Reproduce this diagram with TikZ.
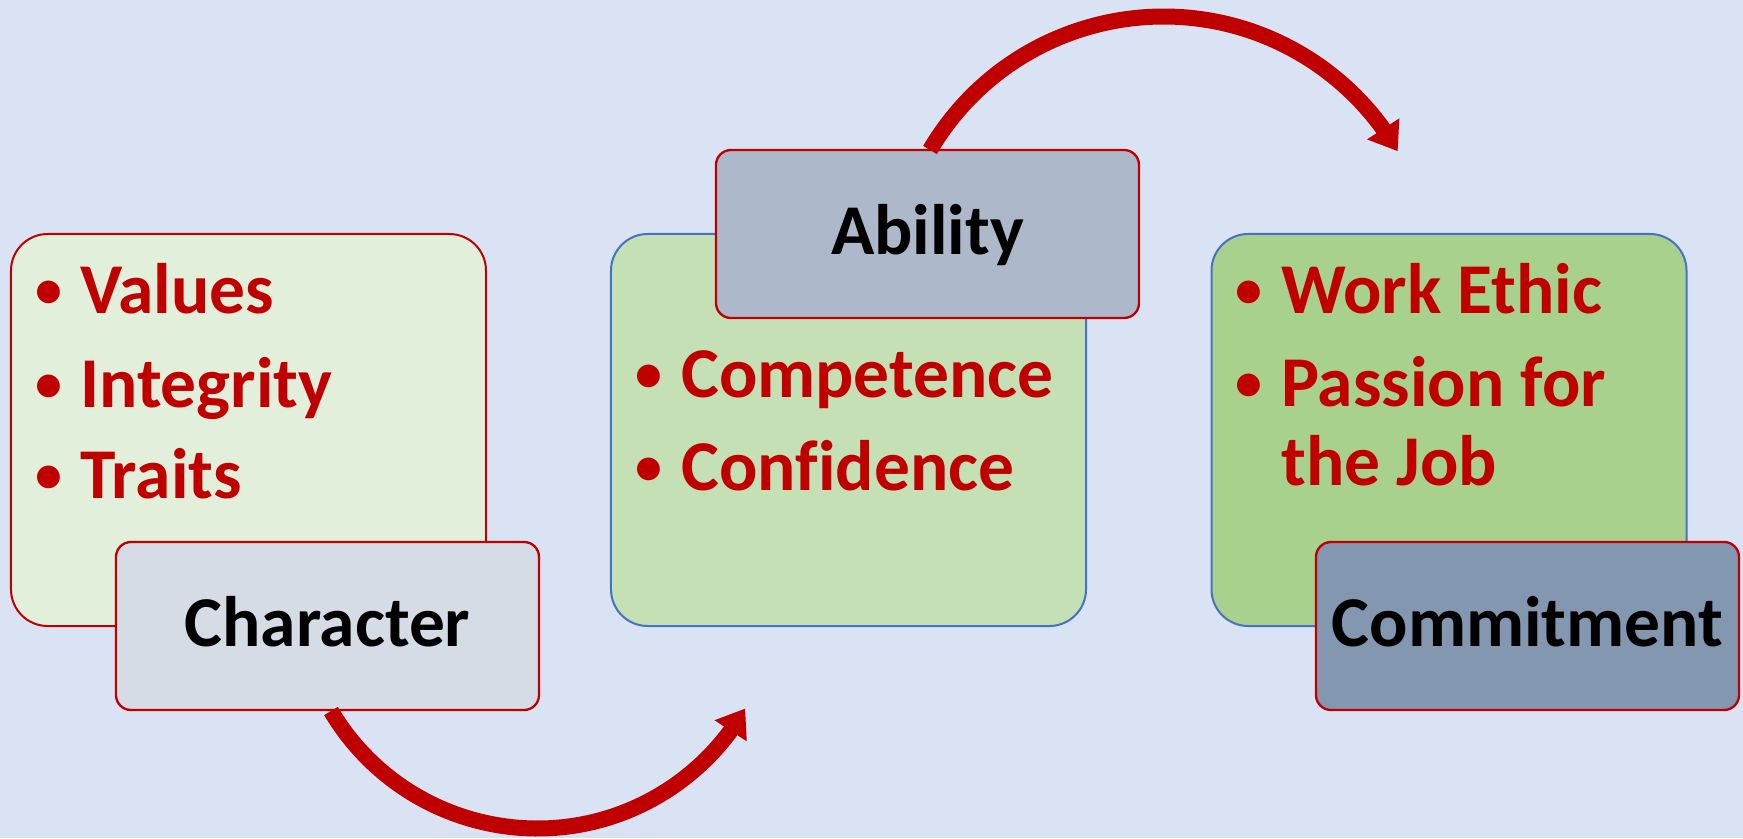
\documentclass[tikz,border=0pt]{standalone}
\usepackage{fontspec}
\setmainfont{Carlito}[Ligatures=NoCommon]
\usetikzlibrary{arrows.meta,bending}
\definecolor{bg}{HTML}{DAE3F3}
\definecolor{bred}{HTML}{C00000}
\definecolor{bblue}{HTML}{4472C4}
\definecolor{gA}{HTML}{E2EFDA}
\definecolor{gB}{HTML}{C5E0B4}
\definecolor{gC}{HTML}{A9D18E}
\definecolor{tA}{HTML}{D6DCE5}
\definecolor{tB}{HTML}{ADB9CA}
\definecolor{tC}{HTML}{8497B0}
\begin{document}
\begin{tikzpicture}[x=0.03cm,y=-0.03cm,
  bigfont/.style={font=\fontsize{61}{78}\selectfont\bfseries},
  bigbox/.style={line width=0.06cm, rounded corners=1.1cm, minimum width=14.25cm, minimum height=11.76cm, inner sep=0pt},
  tagbox/.style={draw=bred, line width=0.07cm, rounded corners=0.45cm, minimum width=12.69cm, minimum height=5.04cm, inner sep=0pt, bigfont, text=black, text height=1.35cm, text depth=0.15cm},
  item/.style={anchor=base west, inner sep=0pt, text=bred, bigfont},
  dot/.style={anchor=base, inner sep=0pt, text=bred, font=\fontsize{46}{50}\selectfont\bfseries, yshift=0.16cm},
  flow/.style={draw=bred, line width=0.48cm, -{Triangle[length=0.8cm,width=1.1cm]}}
]
\fill[bg] (0,0) rectangle (1743,838);
\useasboundingbox (0,0) rectangle (1743,838);

% Character
\node[bigbox, draw=bred, fill=gA] (box1) at (248.5,430) {};
\node[dot] (d11) at (49,313) {•};
\node[item] (t11) at (80,313) {Values};
\node[dot] (d12) at (49,407) {•};
\node[item] (t12) at (80,407) {Integrity};
\node[dot] (d13) at (49,498) {•};
\node[item] (t13) at (80,498) {Traits};
\node[tagbox, fill=tA] (tag1) at (327.5,626) {Character};

% Ability
\node[bigbox, draw=bblue, fill=gB] (box2) at (848.5,430) {};
\node[dot] (d21) at (649,397) {•};
\node[item] (t21) at (681,397) {Competence};
\node[dot] (d22) at (649,490) {•};
\node[item] (t22) at (681,490) {Confidence};
\node[tagbox, fill=tB] (tag2) at (927.5,234) {Ability};

% Commitment
\node[bigbox, draw=bblue, fill=gC] (box3) at (1449,430) {};
\node[dot] (d31) at (1249,313) {•};
\node[item] (t31) at (1281,313) {Work Ethic};
\node[dot] (d32) at (1249,406) {•};
\node[item] (t32) at (1281,406) {Passion for};
\node[item] (t33) at (1281,485) {the Job};
\node[tagbox, fill=tC] (tag3) at (1527.5,626) {Commitment};

% arrows
\coordinate (s1) at (331,711);
\coordinate (s2) at (930,150);
\draw[flow] (s1) arc[start angle=149.3, end angle=30, radius=240];
\draw[flow] (s2) arc[start angle=210.5, end angle=329.8, radius=271];
\end{tikzpicture}
\end{document}
